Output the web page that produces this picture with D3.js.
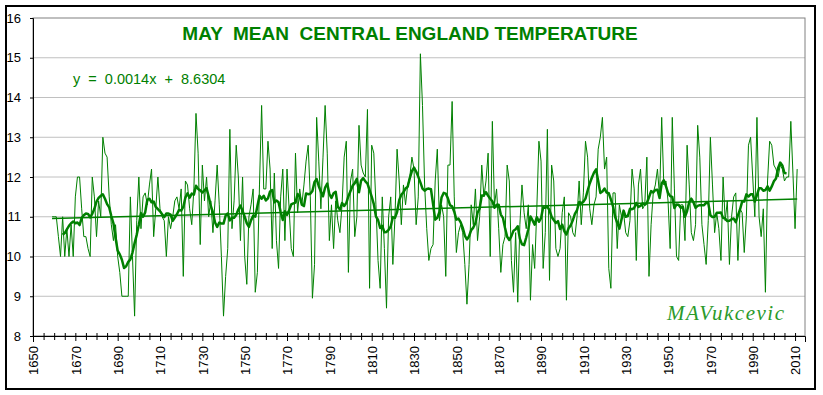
<!DOCTYPE html>
<html>
<head>
<meta charset="utf-8">
<script src="https://cdn.jsdelivr.net/npm/d3@7"></script>
<style>
  body { margin: 0; background: #fff; }
  svg { display: block; font-family: "Liberation Sans", Arial, sans-serif; }
</style>
</head>
<body>
<div id="chart"></div>
<script>
// setting up constants
const FRAME_WIDTH = 823;
const FRAME_HEIGHT = 395;
const PLOT = {left: 33, right: 805, top: 18, bottom: 336};

// May mean CET (deg C), one value per year from 1659
const FIRST_YEAR = 1659;
const may1659 = [11, 11, 11, 10.5, 10, 11, 10, 10.7, 10, 10.8,
                 10, 11.5, 12, 12, 11.2, 10.5, 10.5, 10.2, 10, 12,
                 11.5, 10.5, 11.4, 11.0, 13, 12.6, 12.5, 11.5, 10.8, 10.4,
                 10.8, 10, 9.6, 9, 9, 9, 9, 11.5, 10, 8.5,
                 10.9];
const may1700 = [12.0, 10.7, 11.5, 11.6, 11.3, 11.8, 12.2, 10.5, 11.2, 12.0,
                 11.2, 11.0, 10.9, 10.0, 11.0, 10.7, 11.0, 11.4, 11.5, 11.2,
                 11.7, 9.5, 11.9, 11.8, 11.2, 10.8, 11.7, 13.6, 12.6, 10.3,
                 12.3, 11.4, 12.0, 11.0, 11.4, 10.6, 11.4, 12.3, 11.3, 10.0,
                 8.5, 9.5, 10.2, 13.2, 10.7, 11.4, 12.8, 12.0, 10.4, 12.0];
const may1750 = [10.0, 9.3, 11.0, 11.3, 11.7, 9.1, 9.6, 11.8, 13.8, 11.7,
                 11.7, 12.9, 12.2, 10.2, 12.1, 10.4, 9.7, 11.5, 12.2, 10.4,
                 12.2, 11.2, 10.2, 10.0, 12.6, 11.1, 11.7, 11.3, 11.8, 12.4,
                 12.8, 11.5, 8.95, 9.8, 13.5, 12.4, 11.2, 12.5, 13.8, 12.6,
                 10.4, 11.3, 10.2, 11.4, 10.9, 10.6, 11.3, 12.5, 12.9, 9.6];
const may1800 = [11.9, 12.2, 10.5, 11.0, 13.3, 12.3, 12.1, 12.0, 13.7, 9.2,
                 12.8, 12.6, 11.3, 9.9, 9.2, 11.5, 10.2, 8.7, 11.0, 11.5,
                 9.8, 11.0, 12.7, 11.9, 10.8, 11.8, 11.3, 11.8, 12.0, 12.5,
                 12.2, 10.8, 11.5, 15.1, 13.8, 11.8, 10.7, 9.9, 10.2, 10.3,
                 11.9, 12.7, 10.9, 11.3, 11.0, 9.5, 12.3, 12.3, 13.9, 11.5];
const may1850 = [10.1, 10.6, 10.8, 10.6, 9.8, 8.8, 9.8, 11.3, 10.8, 11.7,
                 10.4, 11.0, 12.3, 11.5, 11.9, 12.6, 10.0, 13.4, 11.3, 11.7,
                 10.7, 9.6, 10.3, 10.5, 12.3, 11.9, 9.9, 9.1, 10.6, 8.85,
                 10.8, 11.8, 11.1, 10.7, 11.3, 8.9, 10.3, 9.7, 11.2, 12.9,
                 12.4, 9.7, 10.6, 13.2, 9.4, 12.3, 11.9, 10.2, 10.0, 10.2];
const may1900 = [11.1, 11.5, 8.9, 11.1, 11.0, 10.6, 10.5, 11.0, 11.9, 10.8,
                 11.6, 12.9, 12.5, 11.2, 10.8, 11.3, 11.5, 12.7, 13.0, 13.5,
                 12.2, 12.5, 9.7, 9.2, 11.6, 11.6, 10.2, 11.3, 11.0, 11.1,
                 10.6, 10.5, 10.9, 12.2, 11.7, 9.9, 11.8, 12.2, 11.2, 11.3,
                 12.5, 9.5, 10.8, 11.6, 11.8, 12.2, 11.5, 13.5, 11.8, 11.9];
const may1950 = [11.4, 10.2, 13.5, 11.7, 10.0, 9.9, 11.3, 11.3, 10.4, 12.8,
                 11.8, 10.6, 10.4, 10.8, 13.3, 12.5, 10.8, 10.3, 9.8, 10.9,
                 13.0, 11.8, 10.6, 11.1, 10.7, 9.9, 12.0, 10.9, 11.4, 9.8,
                 11.0, 11.5, 11.6, 9.9, 11.2, 11.1, 10.1, 11.0, 12.8, 13.0,
                 12.0, 11.0, 13.5, 11.0, 10.5, 11.2, 9.1, 11.9, 12.9, 12.8,
                 12.3, 12.2, 12.0, 12.3, 12.2, 11.9, 12.0, 12.0, 13.4, 12.1,
                 10.7, 12.2];

const mayTemps = [].concat(may1659, may1700, may1750, may1800, may1850, may1900, may1950);
const years = d3.range(FIRST_YEAR, FIRST_YEAR + mayTemps.length);

// linear trend printed on the chart (x = year)
const TREND_SLOPE = 0.0014;
const TREND_INTERCEPT = 8.6304;
const MA_PERIOD = 11; // centred running mean

const yTicks = d3.range(8, 17);
const xLabelTicks = d3.range(1650, 2011, 20);
const xMinorTicks = d3.range(1650, 2015, 5);

const GREEN = "#008000";

const svg = d3.select("#chart")
  .append("svg")
  .attr("width", FRAME_WIDTH)
  .attr("height", FRAME_HEIGHT);

// outer chart border
svg.append("rect")
  .attr("x", 6).attr("y", 6)
  .attr("width", 809).attr("height", 383)
  .attr("fill", "#fff")
  .attr("stroke", "#000")
  .attr("stroke-width", 2);

const x = d3.scaleLinear().domain([1650, 2014.7]).range([PLOT.left, PLOT.right]);
const y = d3.scaleLinear().domain([8, 16]).range([PLOT.bottom, PLOT.top]);

// gridlines
svg.append("g")
  .selectAll("line")
  .data(yTicks.filter(d => d > 8 && d < 16))
  .enter()
  .append("line")
  .attr("x1", PLOT.left).attr("x2", PLOT.right)
  .attr("y1", d => y(d)).attr("y2", d => y(d))
  .attr("stroke", "#c0c0c0")
  .attr("stroke-width", 1);

// plot area border
svg.append("rect")
  .attr("x", PLOT.left).attr("y", PLOT.top)
  .attr("width", PLOT.right - PLOT.left)
  .attr("height", PLOT.bottom - PLOT.top)
  .attr("fill", "none")
  .attr("stroke", "#808080")
  .attr("stroke-width", 1);

// y axis
const yAxis = svg.append("g")
  .attr("transform", "translate(" + PLOT.left + ",0)")
  .call(d3.axisLeft(y).tickValues(yTicks).tickSize(3).tickPadding(9).tickFormat(d3.format("d")));
yAxis.selectAll("text")
  .attr("font-size", 13)
  .attr("fill", "#000")
  .attr("font-family", "'Liberation Sans', Arial, sans-serif");
yAxis.selectAll("line").attr("stroke", "#000");
yAxis.select(".domain").attr("stroke", "#000");

// x axis: minor ticks every 5 years, labels every 20
const xMinor = svg.append("g")
  .attr("transform", "translate(0," + PLOT.bottom + ")")
  .call(d3.axisBottom(x).tickValues(xMinorTicks).tickFormat(""));
xMinor.select(".domain").attr("stroke", "#000");
xMinor.selectAll(".tick line")
  .attr("y1", -3)
  .attr("y2", d => xLabelTicks.includes(d) ? 5 : 4)
  .attr("stroke", "#000");

const xAxis = svg.append("g")
  .attr("transform", "translate(0," + PLOT.bottom + ")")
  .call(d3.axisBottom(x).tickValues(xLabelTicks).tickSize(0).tickFormat(d3.format("d")));
xAxis.select(".domain").remove();
xAxis.selectAll("text")
  .attr("font-size", 13)
  .attr("fill", "#000")
  .attr("font-family", "'Liberation Sans', Arial, sans-serif")
  .attr("text-anchor", "end")
  .attr("transform", "translate(0,10) rotate(-90)")
  .attr("x", 0)
  .attr("y", 0)
  .attr("dy", "0.36em");

const data = years.map((yr, i) => ({year: yr, temp: mayTemps[i]}));

// yearly values
svg.append("path")
  .datum(data)
  .attr("fill", "none")
  .attr("stroke", GREEN)
  .attr("stroke-width", 1)
  .attr("d", d3.line().x(d => x(d.year)).y(d => y(d.temp)));

// running mean of the same values
const half = Math.floor(MA_PERIOD / 2);
const runMean = data.slice(half, data.length - half).map((d, i) => ({
  year: d.year,
  temp: d3.mean(mayTemps.slice(i, i + MA_PERIOD))
}));

svg.append("path")
  .datum(runMean)
  .attr("fill", "none")
  .attr("stroke", GREEN)
  .attr("stroke-width", 2.5)
  .attr("stroke-linejoin", "round")
  .attr("d", d3.line().x(d => x(d.year)).y(d => y(d.temp)));

// linear trend
const trendEnds = [years[0], years[years.length - 1]];
svg.append("path")
  .datum(trendEnds)
  .attr("fill", "none")
  .attr("stroke", GREEN)
  .attr("stroke-width", 1.5)
  .attr("d", d3.line().x(d => x(d)).y(d => y(TREND_SLOPE * d + TREND_INTERCEPT)));

// title
svg.append("text")
  .attr("x", 410).attr("y", 39.5)
  .attr("text-anchor", "middle")
  .attr("fill", GREEN)
  .attr("font-size", 19)
  .attr("font-weight", "bold")
  .style("white-space", "pre")
  .text("MAY  MEAN  CENTRAL ENGLAND TEMPERATURE");

// trend equation
svg.append("text")
  .attr("x", 73).attr("y", 83.5)
  .attr("fill", GREEN)
  .attr("font-size", 14.5)
  .style("white-space", "pre")
  .text("y  =  0.0014x  +  8.6304");

// signature
svg.append("text")
  .attr("x", 667).attr("y", 320)
  .attr("fill", "#2a9a2a")
  .attr("font-size", 21)
  .attr("font-style", "italic")
  .attr("font-family", "'Liberation Serif', 'DejaVu Serif', serif")
  .attr("letter-spacing", 1.5)
  .text("MAVukcevic");
</script>
</body>
</html>
